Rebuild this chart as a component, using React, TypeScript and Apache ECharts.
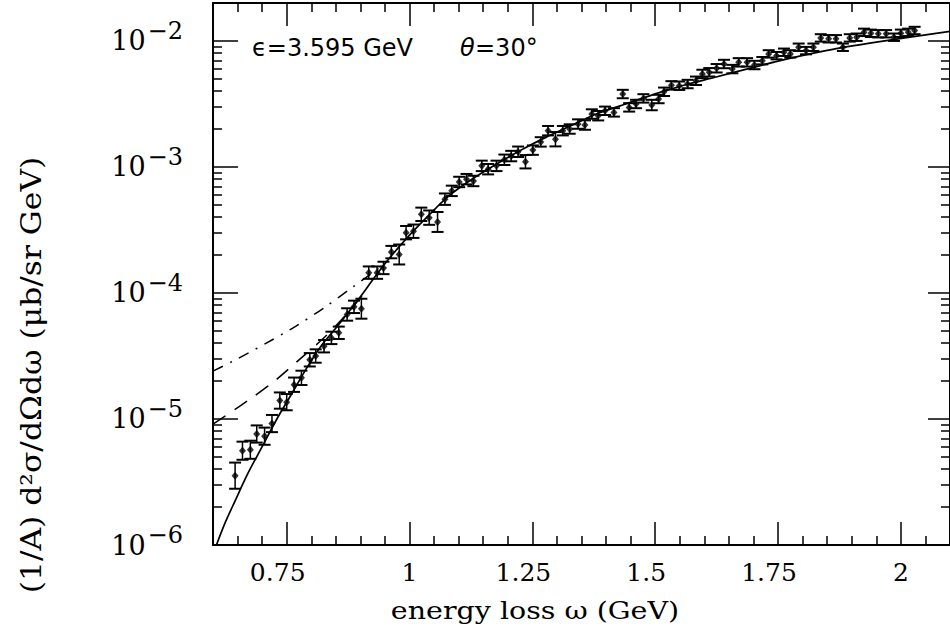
import React, { useEffect, useRef } from "react";
import * as echarts from "echarts";

// ---- axis ranges & ticks ----
const X_MIN = 0.6;
const X_MAX = 2.1;
const Y_MIN = 1e-6;
const Y_MAX = 0.02;
const xMajorTicks = [0.75, 1, 1.25, 1.5, 1.75, 2];
const xMinorTicks = [0.65, 0.7, 0.8, 0.85, 0.9, 0.95, 1.05, 1.1, 1.15, 1.2, 1.3, 1.35, 1.4, 1.45, 1.55, 1.6, 1.65, 1.7, 1.8, 1.85, 1.9, 1.95, 2.05];
const yMajorTicks = [1e-6, 1e-5, 1e-4, 1e-3, 1e-2];
const yMinorMantissas = [2, 3, 4, 5, 6, 7, 8, 9];
const yMinorDecades = [1e-6, 1e-5, 1e-4, 1e-3];

// ---- measured data points (energy loss ω in GeV, cross section in μb/sr GeV) ----
const dataX = [
  0.645, 0.66, 0.676, 0.689, 0.705, 0.72, 0.736, 0.75, 0.765, 0.78,
  0.797, 0.809, 0.826, 0.841, 0.856, 0.873, 0.887, 0.902, 0.917, 0.934,
  0.947, 0.963, 0.979, 0.993, 1.008, 1.024, 1.04, 1.057, 1.072, 1.086,
  1.101, 1.116, 1.13, 1.147, 1.16, 1.177, 1.193, 1.207, 1.221, 1.236,
  1.251, 1.267, 1.282, 1.297, 1.312, 1.326, 1.343, 1.357, 1.371, 1.384,
  1.398, 1.416, 1.434, 1.447, 1.461, 1.476, 1.493, 1.507, 1.518, 1.533,
  1.549, 1.566, 1.583, 1.596, 1.61, 1.625, 1.64, 1.657, 1.67, 1.687,
  1.702, 1.718, 1.731, 1.747, 1.762, 1.775, 1.792, 1.807, 1.822, 1.837,
  1.853, 1.868, 1.882, 1.896, 1.91, 1.925, 1.939, 1.954, 1.97, 1.986,
  2.0, 2.015, 2.028,
];
const dataY = [
  3.55e-6, 5.6e-6, 5.7e-6, 7.6e-6, 7.3e-6, 9.2e-6, 1.4e-5, 1.36e-5, 1.87e-5, 2.12e-5,
  2.95e-5, 3.16e-5, 3.78e-5, 4.4e-5, 4.83e-5, 6.75e-5, 7.76e-5, 7.5e-5, 1.45e-4, 1.45e-4,
  1.58e-4, 2.11e-4, 2.02e-4, 3.01e-4, 3.09e-4, 4.21e-4, 3.96e-4, 3.66e-4, 5.55e-4, 6.46e-4,
  7.6e-4, 8.0e-4, 7.74e-4, 1.02e-3, 9.6e-4, 1.02e-3, 1.14e-3, 1.22e-3, 1.32e-3, 1.1e-3,
  1.36e-3, 1.58e-3, 1.94e-3, 1.66e-3, 1.94e-3, 2.0e-3, 2.19e-3, 2.15e-3, 2.63e-3, 2.55e-3,
  2.79e-3, 2.71e-3, 3.79e-3, 2.97e-3, 3.16e-3, 3.5e-3, 3.1e-3, 3.46e-3, 3.95e-3, 4.44e-3,
  4.41e-3, 4.55e-3, 4.83e-3, 5.47e-3, 5.64e-3, 6.07e-3, 6.56e-3, 5.98e-3, 6.76e-3, 6.76e-3,
  6.44e-3, 6.97e-3, 7.89e-3, 7.64e-3, 8.13e-3, 7.89e-3, 8.91e-3, 8.38e-3, 8.91e-3, 1.057e-2,
  1.04e-2, 1.04e-2, 8.91e-3, 1.057e-2, 1.07e-2, 1.17e-2, 1.15e-2, 1.14e-2, 1.14e-2, 1.07e-2,
  1.15e-2, 1.17e-2, 1.21e-2,
];
// relative (fractional) errors
const dataErr = [
  0.27, 0.18, 0.18, 0.17, 0.17, 0.17, 0.16, 0.16, 0.14, 0.14,
  0.13, 0.13, 0.12, 0.12, 0.12, 0.12, 0.12, 0.2, 0.12, 0.12,
  0.12, 0.12, 0.2, 0.13, 0.13, 0.13, 0.14, 0.2, 0.11, 0.1,
  0.1, 0.1, 0.1, 0.1, 0.1, 0.1, 0.1, 0.1, 0.1, 0.13,
  0.09, 0.09, 0.09, 0.14, 0.09, 0.09, 0.09, 0.09, 0.09, 0.09,
  0.08, 0.08, 0.08, 0.08, 0.08, 0.08, 0.1, 0.08, 0.08, 0.08,
  0.08, 0.08, 0.08, 0.08, 0.08, 0.08, 0.08, 0.08, 0.08, 0.08,
  0.08, 0.07, 0.07, 0.07, 0.07, 0.07, 0.07, 0.07, 0.07, 0.07,
  0.07, 0.07, 0.07, 0.07, 0.07, 0.07, 0.07, 0.07, 0.07, 0.07,
  0.07, 0.07, 0.07,
];

// ---- model curves ----
const solidX = [0.607, 0.625, 0.645, 0.67, 0.7, 0.73, 0.76, 0.79, 0.82, 0.856, 0.9, 0.93, 0.96, 1.0, 1.04, 1.08, 1.13, 1.18, 1.23, 1.28, 1.33, 1.38, 1.44, 1.5, 1.56, 1.62, 1.68, 1.75, 1.85, 1.95, 2.1];
const solidY = [1.0e-6, 1.51e-6, 2.24e-6, 3.63e-6, 6.03e-6, 1.0e-5, 1.58e-5, 2.51e-5, 3.8e-5, 5.62e-5, 9.33e-5, 1.35e-4, 1.91e-4, 2.88e-4, 4.17e-4, 5.89e-4, 8.13e-4, 1.07e-3, 1.38e-3, 1.74e-3, 2.14e-3, 2.63e-3, 3.16e-3, 3.8e-3, 4.47e-3, 5.13e-3, 5.89e-3, 6.92e-3, 8.41e-3, 9.77e-3, 1.19e-2];
const dashX = [0.6, 0.654, 0.68, 0.728, 0.771, 0.822, 0.85, 0.88, 0.91];
const dashY = [9.1e-6, 1.26e-5, 1.48e-5, 2.04e-5, 2.85e-5, 4.27e-5, 5.5e-5, 7.4e-5, 1.02e-4];
const dashDotX = [0.6, 0.64, 0.7075, 0.768, 0.829, 0.8865, 0.95];
const dashDotY = [2.4e-5, 2.87e-5, 3.98e-5, 5.44e-5, 7.76e-5, 1.13e-4, 1.7e-4];

const lg = (v: number) => Math.log10(v);
const SERIF = "'DejaVu Serif', serif";
const SANS = "'DejaVu Sans', sans-serif";

export default function App() {
  const ref = useRef<HTMLDivElement>(null);

  useEffect(() => {
    document.body.style.margin = "0";
    if (!ref.current) return;
    const chart = echarts.init(ref.current, undefined, { renderer: "svg" });

    const yMinor: number[] = [];
    yMinorDecades.forEach((d) => yMinorMantissas.forEach((m) => yMinor.push(lg(m * d))));
    const yMajor = yMajorTicks.map(lg);

    const line = { show: true, onZero: false, lineStyle: { color: "#000", width: 2 } };
    const noLine = { show: false, onZero: false };

    const xAxisBase = { type: "value", min: X_MIN, max: X_MAX, splitLine: { show: false } };
    const yAxisBase = { type: "value", min: lg(Y_MIN), max: lg(Y_MAX), splitLine: { show: false } };

    const xLabel = {
      show: true,
      customValues: xMajorTicks,
      margin: 15,
      fontFamily: SERIF,
      fontSize: 25,
      color: "#000",
      formatter: (v: number) => {
        const s = String(Math.round(v * 100) / 100);
        return s.indexOf(".") >= 0 ? `{d|${s}}` : `{i|${s}}`;
      },
      rich: {
        d: { fontFamily: SERIF, fontSize: 25, color: "#000", padding: [0, 18, 0, 0] },
        i: { fontFamily: SERIF, fontSize: 25, color: "#000" },
      },
    };

    const yLabel = {
      show: true,
      customValues: yMajor,
      margin: 30,
      formatter: (v: number) => `{b|10}{s|\u2212${Math.abs(Math.round(v))}}`,
      rich: {
        b: { fontFamily: SERIF, fontSize: 27, color: "#000", verticalAlign: "middle" },
        s: { fontFamily: SERIF, fontSize: 24, color: "#000", verticalAlign: "middle", padding: [0, 0, 20, 2] },
      },
    };

    const tick = (vals: number[], len: number) => ({
      show: true,
      inside: true,
      length: len,
      customValues: vals,
      lineStyle: { color: "#000", width: 1.5 },
    });

    const pts = dataX.map((x, i) => [x, lg(dataY[i])]);
    const bars = dataX.map((x, i) => [x, lg(dataY[i]), lg(dataY[i] / (1 + dataErr[i])), lg(dataY[i] * (1 + dataErr[i]))]);

    const option: any = {
      animation: false,
      backgroundColor: "#fff",
      grid: { left: 213, right: -4, top: 3, bottom: 87, containLabel: false },
      xAxis: [
        { ...xAxisBase, position: "bottom", axisLine: line, axisTick: tick(xMajorTicks, 23), axisLabel: xLabel },
        { ...xAxisBase, position: "bottom", axisLine: noLine, axisTick: tick(xMinorTicks, 9), axisLabel: { show: false } },
        { ...xAxisBase, position: "top", axisLine: line, axisTick: tick(xMajorTicks, 23), axisLabel: { show: false } },
        { ...xAxisBase, position: "top", axisLine: noLine, axisTick: tick(xMinorTicks, 9), axisLabel: { show: false } },
      ],
      yAxis: [
        { ...yAxisBase, position: "left", axisLine: line, axisTick: tick(yMajor, 25), axisLabel: yLabel },
        { ...yAxisBase, position: "left", axisLine: noLine, axisTick: tick(yMinor, 9), axisLabel: { show: false } },
        { ...yAxisBase, position: "right", axisLine: line, axisTick: tick(yMajor, 22), axisLabel: { show: false } },
        { ...yAxisBase, position: "right", axisLine: noLine, axisTick: tick(yMinor, 9), axisLabel: { show: false } },
      ],
      series: [
        {
          type: "line",
          data: solidX.map((x, i) => [x, lg(solidY[i])]),
          showSymbol: false,
          smooth: 0.3,
          lineStyle: { color: "#000", width: 1.7 },
          z: 3,
        },
        {
          type: "line",
          data: dashX.map((x, i) => [x, lg(dashY[i])]),
          showSymbol: false,
          smooth: 0.3,
          lineStyle: { color: "#000", width: 1.5, type: [15, 11] },
          z: 3,
        },
        {
          type: "line",
          data: dashDotX.map((x, i) => [x, lg(dashDotY[i])]),
          showSymbol: false,
          smooth: 0.3,
          lineStyle: { color: "#000", width: 1.5, type: [11, 8, 2, 8] },
          z: 3,
        },
        {
          type: "custom",
          data: bars,
          encode: { x: 0, y: 1 },
          renderItem: (params: any, api: any) => {
            const x = api.value(0);
            const top = api.coord([x, api.value(3)]);
            const bot = api.coord([x, api.value(2)]);
            const w = 6;
            const st = { stroke: "#000", lineWidth: 1.5 };
            return {
              type: "group",
              children: [
                { type: "line", shape: { x1: top[0], y1: top[1], x2: bot[0], y2: bot[1] }, style: st },
                { type: "line", shape: { x1: top[0] - w, y1: top[1], x2: top[0] + w, y2: top[1] }, style: { ...st, lineWidth: 2 } },
                { type: "line", shape: { x1: bot[0] - w, y1: bot[1], x2: bot[0] + w, y2: bot[1] }, style: { ...st, lineWidth: 2 } },
              ],
            };
          },
          z: 4,
        },
        {
          type: "scatter",
          data: pts,
          symbol: "diamond",
          symbolSize: [7, 8],
          itemStyle: { color: "#000" },
          z: 5,
        },
      ],
      graphic: [
        {
          type: "text",
          left: 252,
          top: 36,
          style: { text: "\u03F5=3.595 GeV", font: `24px ${SANS}`, fill: "#000" },
        },
        {
          type: "text",
          left: 460,
          top: 36,
          style: { text: "\u03B8", font: `italic 24px ${SANS}`, fill: "#000" },
        },
        {
          type: "text",
          left: 475,
          top: 36,
          style: { text: "=30\u00B0", font: `24px ${SANS}`, fill: "#000" },
        },
        {
          type: "text",
          x: 535,
          y: 610,
          scaleX: 1.14,
          style: { text: "energy loss \u03C9 (GeV)", font: `25px ${SERIF}`, fill: "#000", align: "center", verticalAlign: "middle" },
        },
        {
          type: "text",
          x: 31,
          y: 375,
          rotation: Math.PI / 2,
          scaleX: 1.12,
          style: { text: "(1/A) d\u00B2\u03C3/d\u03A9d\u03C9 (\u03BCb/sr GeV)", font: `28px ${SERIF}`, fill: "#000", align: "center", verticalAlign: "middle" },
        },
      ],
    };

    chart.setOption(option);
    return () => chart.dispose();
  }, []);

  return <div ref={ref} style={{ width: 950, height: 632 }} />;
}
